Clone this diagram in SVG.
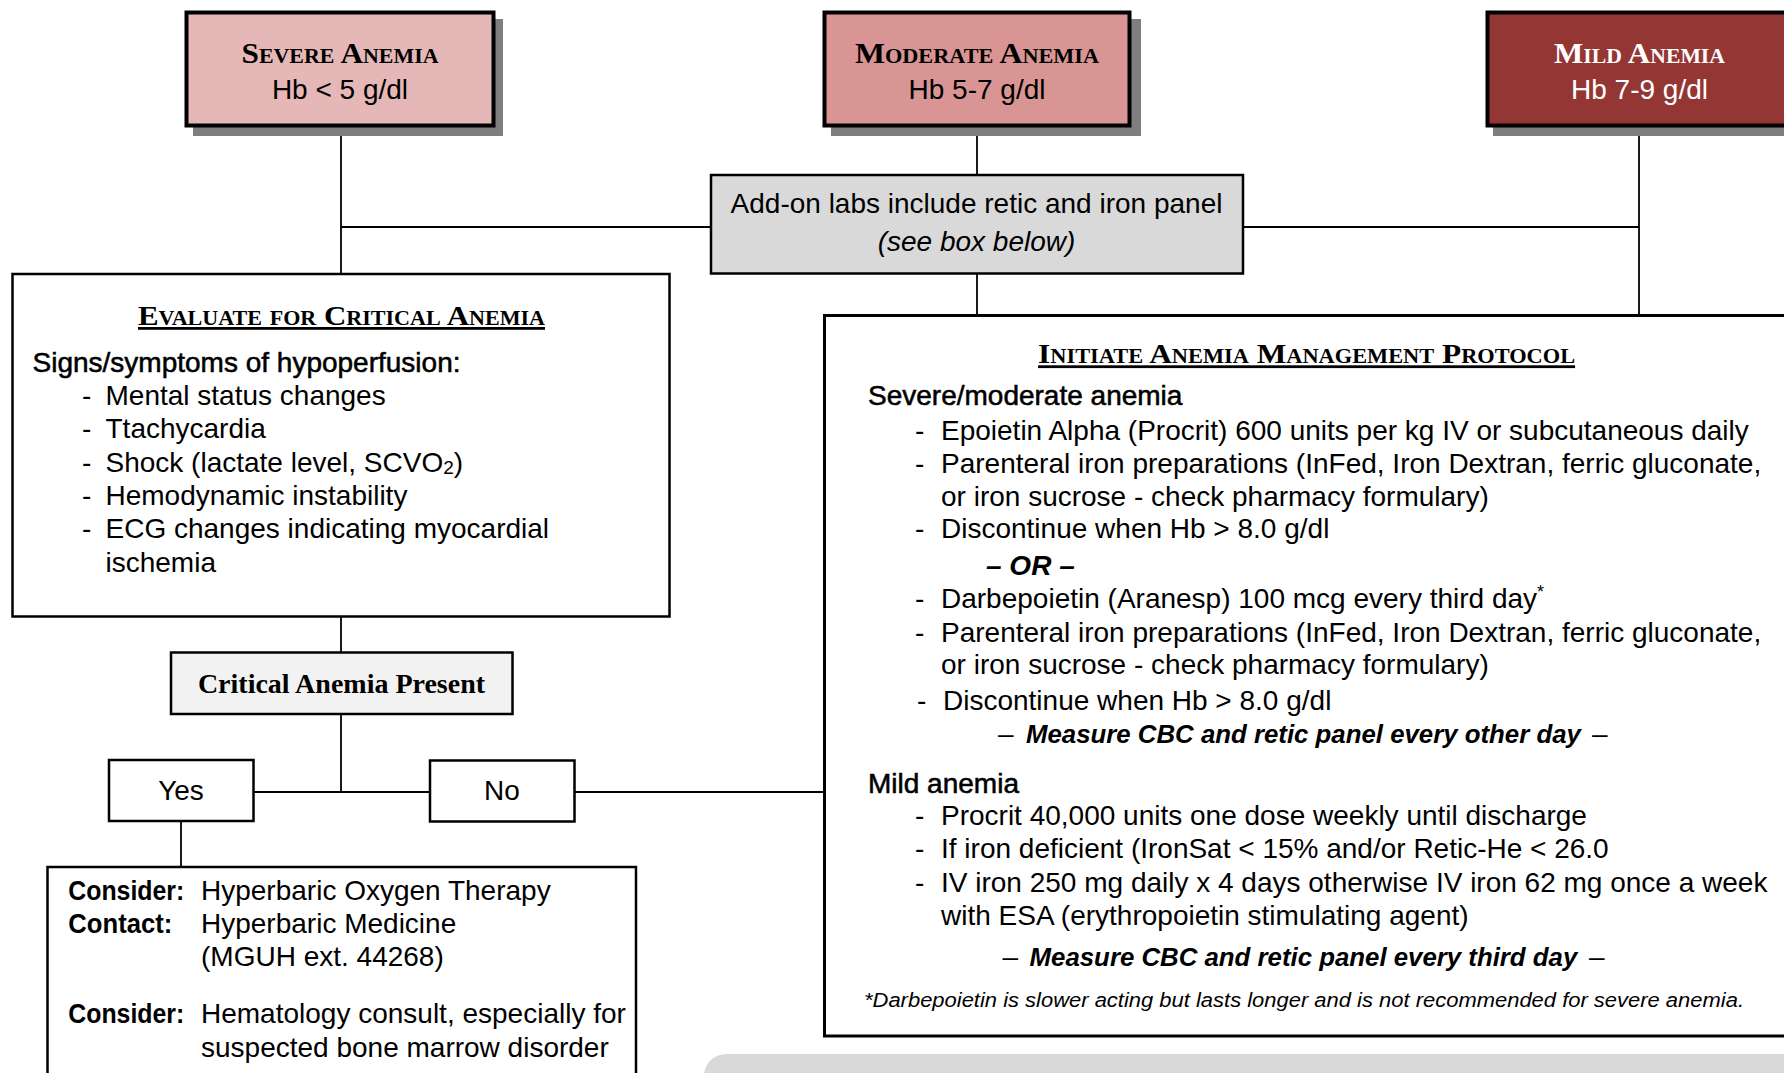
<svg xmlns="http://www.w3.org/2000/svg" width="1784" height="1073" viewBox="0 0 1784 1073">
<style>
.box{fill:#fff;stroke:#000;stroke-width:2.5}
.hdr{stroke:#000;stroke-width:4}
.shadow{fill:#7f7f7f}
.conn line{stroke:#000;stroke-width:1.8}
.t{font-family:"Liberation Sans",Arial,sans-serif;font-size:28px;fill:#000}
.sc{font-family:"Liberation Serif","Times New Roman",serif;font-weight:bold;font-variant:small-caps;fill:#000}
.ser{font-family:"Liberation Serif","Times New Roman",serif;font-weight:bold;font-size:28px;fill:#000}
.med{stroke:#000;stroke-width:0.55}
.b{font-weight:bold}
.i{font-style:italic}
.bi{font-weight:bold;font-style:italic}
.ms{font-size:25.8px}
.c{text-anchor:middle}
.u{text-decoration:underline}
.w{fill:#fff}
.fn{font-family:"Liberation Sans",Arial,sans-serif;font-style:italic;font-size:20px;fill:#000}
</style>
<rect width="1784" height="1073" fill="#fff"/>

<g id="connectors" class="conn">
  <line x1="341" y1="127" x2="341" y2="273"/>
  <line x1="341" y1="227" x2="711" y2="227"/>
  <line x1="1243" y1="227" x2="1639" y2="227"/>
  <line x1="977" y1="127" x2="977" y2="174"/>
  <line x1="1639" y1="127" x2="1639" y2="315"/>
  <line x1="977" y1="274" x2="977" y2="315"/>
  <line x1="341" y1="617" x2="341" y2="652"/>
  <line x1="341" y1="714" x2="341" y2="792"/>
  <line x1="254" y1="792" x2="430" y2="792"/>
  <line x1="575" y1="792" x2="824" y2="792"/>
  <line x1="181" y1="821" x2="181" y2="867"/>
</g>

<g id="severe">
  <rect class="shadow" x="193" y="19" width="310" height="117"/>
  <rect class="hdr" x="186.5" y="12.5" width="307" height="113" fill="#e5b8b7"/>
  <text class="sc c" x="340" y="63" font-size="30" textLength="197" lengthAdjust="spacingAndGlyphs">Severe Anemia</text>
  <text class="t c" x="340" y="99">Hb &lt; 5 g/dl</text>
</g>

<g id="moderate">
  <rect class="shadow" x="831" y="19" width="310" height="117"/>
  <rect class="hdr" x="824.5" y="12.5" width="305" height="113" fill="#d99594"/>
  <text class="sc c" x="977" y="63" font-size="30" textLength="244" lengthAdjust="spacingAndGlyphs">Moderate Anemia</text>
  <text class="t c" x="977" y="99">Hb 5-7 g/dl</text>
</g>

<g id="mild">
  <rect class="shadow" x="1493" y="19" width="310" height="117"/>
  <rect class="hdr" x="1487.5" y="12.5" width="306" height="113" fill="#943634"/>
  <text class="sc c w" x="1639.5" y="63" font-size="30" textLength="171" lengthAdjust="spacingAndGlyphs">Mild Anemia</text>
  <text class="t c w" x="1639.5" y="99">Hb 7-9 g/dl</text>
</g>

<g id="addon">
  <rect x="711" y="175" width="532" height="98.5" fill="#d9d9d9" stroke="#000" stroke-width="2.5"/>
  <text class="t c" x="976.5" y="213">Add-on labs include retic and iron panel</text>
  <text class="t c i" x="976.5" y="250.5">(see box below)</text>
</g>

<g id="evaluate">
  <rect class="box" x="12.5" y="274" width="657" height="342.5"/>
  <text class="sc c u" x="341.5" y="325" font-size="28" textLength="407" lengthAdjust="spacingAndGlyphs">Evaluate for Critical Anemia</text>
  <text class="t med" x="32.5" y="371.7">Signs/symptoms of hypoperfusion:</text>
  <text class="t" x="82" y="405">-</text><text class="t" x="105.5" y="405">Mental status changes</text>
  <text class="t" x="82" y="438.3">-</text><text class="t" x="105.5" y="438.3">Ttachycardia</text>
  <text class="t" x="82" y="471.7">-</text><text class="t" x="105.5" y="471.7">Shock (lactate level, SCVO<tspan font-size="19" dy="2">2</tspan><tspan dy="-2">)</tspan></text>
  <text class="t" x="82" y="505">-</text><text class="t" x="105.5" y="505">Hemodynamic instability</text>
  <text class="t" x="82" y="538.3">-</text><text class="t" x="105.5" y="538.3">ECG changes indicating myocardial</text>
  <text class="t" x="105.5" y="571.7">ischemia</text>
</g>

<g id="critical">
  <rect x="171" y="652.5" width="341.5" height="61.5" fill="#f2f2f2" stroke="#000" stroke-width="2.5"/>
  <text class="ser c" x="341.5" y="693.3">Critical Anemia Present</text>
</g>

<g id="yes">
  <rect class="box" x="109" y="760" width="144.5" height="61"/>
  <text class="t c" x="181" y="800">Yes</text>
</g>

<g id="no">
  <rect class="box" x="430" y="760.5" width="144.5" height="61"/>
  <text class="t c" x="502" y="800">No</text>
</g>

<g id="consider">
  <rect class="box" x="47.5" y="867" width="588.5" height="220"/>
  <text class="t b" x="68.3" y="900" textLength="116" lengthAdjust="spacingAndGlyphs">Consider:</text>
  <text class="t" x="201" y="900">Hyperbaric Oxygen Therapy</text>
  <text class="t b" x="68.3" y="933.3" textLength="104" lengthAdjust="spacingAndGlyphs">Contact:</text>
  <text class="t" x="201" y="933.3">Hyperbaric Medicine</text>
  <text class="t" x="201" y="966">(MGUH ext. 44268)</text>
  <text class="t b" x="68.3" y="1023.3" textLength="116" lengthAdjust="spacingAndGlyphs">Consider:</text>
  <text class="t" x="201" y="1023.3">Hematology consult, especially for</text>
  <text class="t" x="201" y="1056.5">suspected bone marrow disorder</text>
</g>

<g id="protocol">
  <rect x="824.5" y="315.5" width="970" height="720.5" fill="#fff" stroke="#000" stroke-width="3"/>
  <text class="sc c u" x="1306.6" y="363.3" font-size="28" textLength="537" lengthAdjust="spacingAndGlyphs">Initiate Anemia Management Protocol</text>
  <text class="t med" x="868" y="405">Severe/moderate anemia</text>
  <text class="t" x="915" y="440">-</text><text class="t" x="941" y="440">Epoietin Alpha (Procrit) 600 units per kg IV or subcutaneous daily</text>
  <text class="t" x="915" y="473">-</text><text class="t" x="941" y="473">Parenteral iron preparations (InFed, Iron Dextran, ferric gluconate,</text>
  <text class="t" x="941" y="505.7">or iron sucrose - check pharmacy formulary)</text>
  <text class="t" x="915" y="538">-</text><text class="t" x="941" y="538">Discontinue when Hb &gt; 8.0 g/dl</text>
  <text class="t bi" x="986" y="575">– OR –</text>
  <text class="t" x="915" y="608.3">-</text><text class="t" x="941" y="608.3">Darbepoietin (Aranesp) 100 mcg every third day<tspan font-size="18" dy="-10">*</tspan></text>
  <text class="t" x="915" y="641.7">-</text><text class="t" x="941" y="641.7">Parenteral iron preparations (InFed, Iron Dextran, ferric gluconate,</text>
  <text class="t" x="941" y="674">or iron sucrose - check pharmacy formulary)</text>
  <text class="t" x="917" y="710">-</text><text class="t" x="943" y="710">Discontinue when Hb &gt; 8.0 g/dl</text>
  <text class="t" x="998" y="743.3" font-size="27">–</text>
  <text class="t bi ms" x="1026" y="743.3">Measure CBC and retic panel every other day</text>
  <text class="t" x="1592" y="743.3" font-size="27">–</text>
  <text class="t med" x="868" y="793.3">Mild anemia</text>
  <text class="t" x="915" y="825">-</text><text class="t" x="941" y="825">Procrit 40,000 units one dose weekly until discharge</text>
  <text class="t" x="915" y="858.3">-</text><text class="t" x="941" y="858.3">If iron deficient (IronSat &lt; 15% and/or Retic-He &lt; 26.0</text>
  <text class="t" x="915" y="891.7">-</text><text class="t" x="941" y="891.7">IV iron 250 mg daily x 4 days otherwise IV iron 62 mg once a week</text>
  <text class="t" x="941" y="925">with ESA (erythropoietin stimulating agent)</text>
  <text class="t" x="1002.6" y="966" font-size="27">–</text>
  <text class="t bi ms" x="1029.6" y="966">Measure CBC and retic panel every third day</text>
  <text class="t" x="1589" y="966" font-size="27">–</text>
  <text class="fn" x="864" y="1006.7" textLength="880" lengthAdjust="spacingAndGlyphs">*Darbepoietin is slower acting but lasts longer and is not recommended for severe anemia.</text>
</g>

<rect x="704" y="1054" width="1100" height="60" rx="22" ry="22" fill="#d9d9d9"/>
</svg>
